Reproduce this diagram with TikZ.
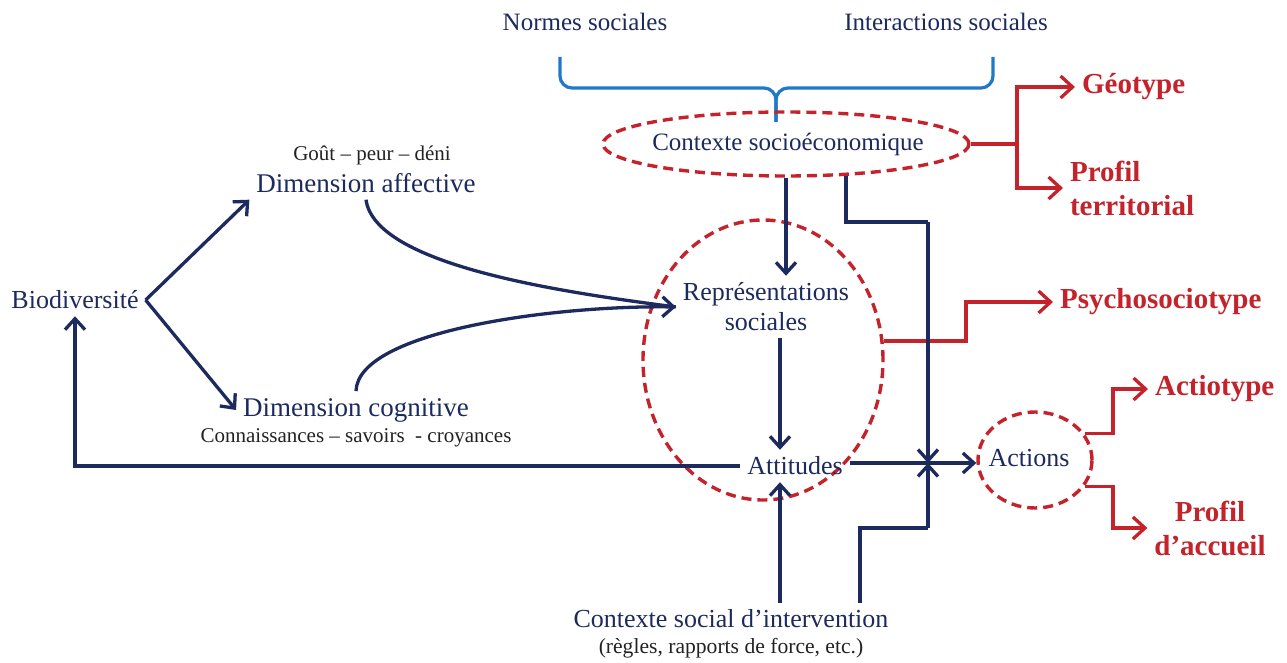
\documentclass[tikz,border=0pt]{standalone}
\usepackage{fontspec}
\setmainfont{Liberation Serif}
\usetikzlibrary{arrows.meta,shapes.geometric}
\definecolor{navy}{HTML}{1C2A5E}
\definecolor{rred}{HTML}{C4232B}
\definecolor{bblue}{HTML}{1F78C8}
\definecolor{dtext}{HTML}{222222}
\begin{document}
\begin{tikzpicture}[x=0.5pt,y=-0.5pt,
  nline/.style={draw=navy, line width=1.65pt},
  arr/.style={nline, -{Straight Barb[length=5.5pt,width=10pt]}},
  rline/.style={draw=rred, line width=1.65pt},
  rarr/.style={rline, -{Straight Barb[length=6pt,width=11pt]}},
  brace/.style={draw=bblue, line width=1.6pt, rounded corners=6pt},
  dashell/.style={ellipse, draw=rred, line width=1.7pt, dash pattern=on 5pt off 3pt, inner sep=0pt},
  ntext/.style={text=navy, font=\fontsize{13}{15}\selectfont, align=center},
  stext/.style={text=dtext, font=\fontsize{10.5}{12}\selectfont},
  rtext/.style={text=rred, font=\bfseries\fontsize{14.5}{17}\selectfont, align=left, anchor=west}]
\useasboundingbox (0,0) rectangle (1287,663);
% top labels and brace
\node[ntext, font=\fontsize{12.5}{15}\selectfont] (norm) at (585,22) {Normes sociales};
\node[ntext, font=\fontsize{12.5}{15}\selectfont] (inter) at (946,22) {Interactions sociales};
\draw[brace] (560,57) -- (560,88) -- (776,88) -- (776,122);
\draw[brace] (993,57) -- (993,88) -- (776,88) -- (776,122);
% main nodes
\node[dashell, minimum width=183pt, minimum height=32pt] (socio) at (786,144) {};
\node[ntext, font=\fontsize{12.5}{15}\selectfont] (sociot) at (788,144) {Contexte socioéconomique};
\node[dashell, minimum width=120pt, minimum height=140pt] (rs) at (763,360) {};
\node[ntext] (rep) at (766,307) {Représentations\\sociales};
\node[ntext] (att) at (795,466) {Attitudes};
\node[dashell, minimum width=57pt, minimum height=48pt] (act) at (1035,460) {};
\node[ntext] (actt) at (1029,458) {Actions};
\node[ntext] (bio) at (75,300) {Biodiversité};
\node[stext] (gout) at (372,155) {Goût – peur – déni};
\node[ntext, font=\fontsize{13.5}{15}\selectfont] (aff) at (366,183) {Dimension affective};
\node[ntext, font=\fontsize{13.5}{15}\selectfont] (cog) at (356,410) {Dimension cognitive};
\node[stext] (conn) at (356,438) {Connaissances – savoirs \ - croyances};
\node[ntext] (csi) at (731,619) {Contexte social d’intervention};
\node[stext, font=\fontsize{10.8}{12}\selectfont] (regl) at (731,648) {(règles, rapports de force, etc.)};
% red labels
\node[rtext] (geo) at (1075,87) {Géotype};
\node[rtext] (prof) at (1063,188) {Profil\\territorial};
\node[rtext] (psy) at (1053,302) {Psychosociotype};
\node[rtext] (actio) at (1148,389) {Actiotype};
\node[rtext, align=center, anchor=center] (pacc) at (1210,528) {Profil\\d’accueil};
% coordinates
\coordinate (jg) at (1017,144);
\coordinate (jp) at (966,302);
\coordinate (ja) at (1113,389);
\coordinate (jb) at (1113,528);
\coordinate (jt) at (928,222);
\coordinate (jn) at (928,463);
\coordinate (jl) at (928,528);
\coordinate (ax) at (780,0);
\coordinate (cx) at (860,0);
% red connectors
\draw[rarr] (socio.east) -- (jg) |- (geo.west);
\draw[rarr] (jg) |- (prof.west);
\draw[rarr] (rs.9) -| (jp) -- (psy.west);
\draw[rarr] (act.28) -| (ja) -- (actio.west);
\draw[rarr] (act.-28) -| (jb) -- (pacc.west);
% navy connectors
\draw[arr] (socio.south) -- (socio.south |- rep.north);
\draw[arr] (rep.south -| ax) -- (att.north -| ax);
\draw[nline] (socio.-28) |- (jt);
\draw[arr] (jt) -- (jn);
\draw[arr] (att.east |- jn) -- (jn -| act.west);
\draw[arr] (csi.north -| ax) -- (att.south -| ax);
\draw[nline] (csi.north -| cx) |- (jl);
\draw[arr] (jl) -- (jn);
\draw[arr] (att.west) -| (bio.south);
\draw[arr] (bio.east) -- (aff.south west);
\draw[arr] (bio.east) -- (cog.west);
\draw[nline] (aff.south) .. controls (375,265) and (560,292) .. (rep.west);
\draw[arr] (cog.north) .. controls (358,330) and (560,305) .. (rep.west);
\end{tikzpicture}
\end{document}
